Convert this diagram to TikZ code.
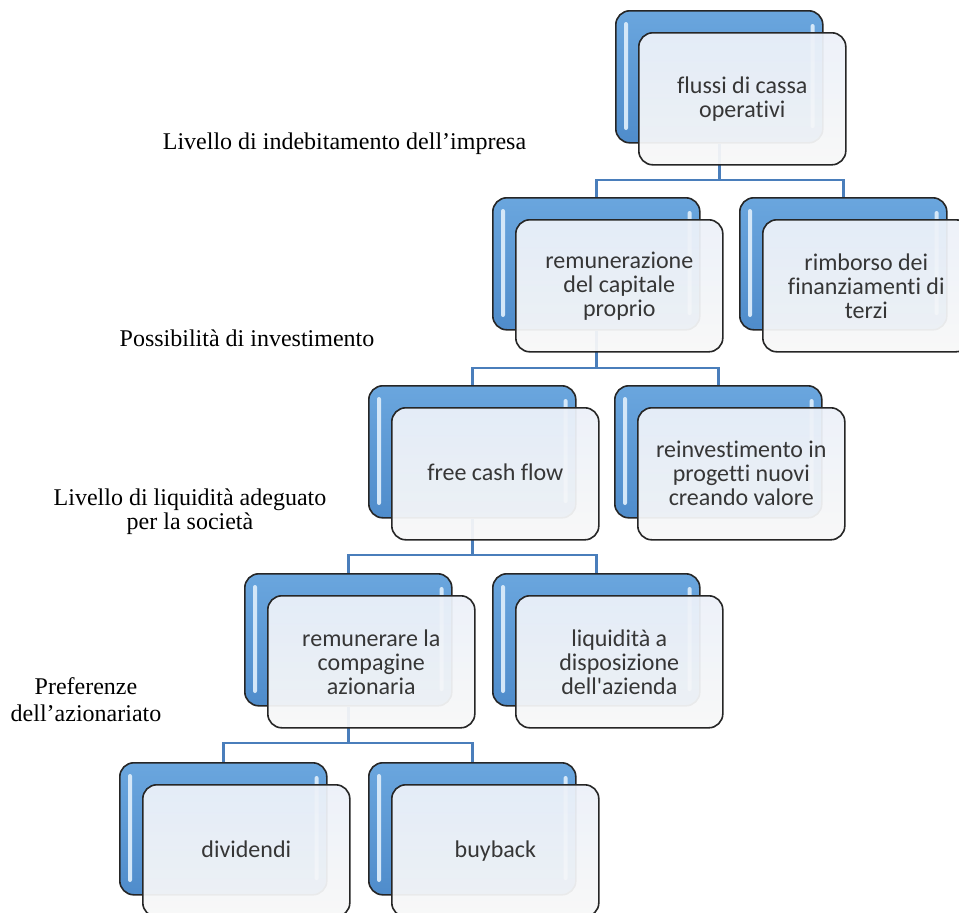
\documentclass[tikz,border=0pt]{standalone}
\usepackage{fontspec}
\setmainfont{Liberation Serif}
\newfontfamily\boxfont[Ligatures=NoCommon]{Carlito}
\usetikzlibrary{backgrounds,calc}
\definecolor{connblue}{HTML}{4A7EBB}
\definecolor{backtop}{HTML}{6AA6DE}
\definecolor{backbot}{HTML}{4F8CCB}
\definecolor{fronttop}{HTML}{ECF1F9}
\definecolor{frontbot}{HTML}{F8F8F8}
\definecolor{stripecol}{HTML}{D4E7F8}
\definecolor{textgray}{HTML}{363636}
\tikzset{
  backbox/.style={draw=black!85, line width=1.6pt, rounded corners=14pt,
    top color=backtop, bottom color=backbot,
    minimum width=207pt, minimum height=132pt, anchor=north west, inner sep=0pt},
  frontbox/.style={draw=black!85, line width=1.6pt, rounded corners=14pt,
    top color=fronttop, bottom color=frontbot, fill opacity=0.94, text opacity=1,
    minimum width=207pt, minimum height=132pt, anchor=north west, inner sep=0pt,
    align=center, text=textgray, font=\boxfont\fontsize{24}{24}\selectfont},
  stripe/.style={fill=stripecol, rounded corners=2pt},
  conn/.style={draw=connblue, line width=2.6pt},
  lab/.style={align=center, text=black, font=\fontsize{24}{24}\selectfont},
}
\newcommand{\pairnode}[4]{%
  \node[backbox] (#1B) at (#2,#3) {};
  \fill[stripe] ($(#1B.north west)+(9,12)$) rectangle ($(#1B.north west)+(13,120)$);
  \fill[stripe] ($(#1B.north east)+(-13,14)$) rectangle ($(#1B.north east)+(-9,118)$);
  \node[frontbox] (#1F) at (#2+23,#3+22) {#4};
}
\begin{document}
\begin{tikzpicture}[x=1pt,y=-1pt]
\useasboundingbox (0,0) rectangle (959,913);

\pairnode{a}{615}{10}{flussi di cassa\\operativi}
\pairnode{b}{492}{197}{remunerazione\\del capitale\\proprio}
\pairnode{c}{739}{197}{rimborso dei\\finanziamenti di\\terzi}
\pairnode{d}{368}{385}{\vphantom{dy}free cash flow}
\pairnode{e}{614}{385}{reinvestimento in\\progetti nuovi\\creando valore}
\pairnode{f}{244}{573}{remunerare la\\compagine\\azionaria}
\pairnode{g}{492}{573}{liquidità a\\disposizione\\dell'azienda}
\pairnode{h}{119}{762}{\vphantom{dy}dividendi}
\pairnode{i}{368}{762}{\vphantom{dy}buyback}

\begin{pgfonlayer}{background}
  \fill[white] (0,0) rectangle (959,913);
  \path (bB.north) ++(0,-17) coordinate (j1);
  \draw[conn] (aB.south) -- (aB.south |- j1);
  \draw[conn] (bB.north) -- (j1) -| (cB.north);
  \path (dB.north) ++(0,-17) coordinate (j2);
  \draw[conn] (bB.south) -- (bB.south |- j2);
  \draw[conn] (dB.north) -- (j2) -| (eB.north);
  \path (fB.north) ++(0,-18) coordinate (j3);
  \draw[conn] (dB.south) -- (dB.south |- j3);
  \draw[conn] (fB.north) -- (j3) -| (gB.north);
  \path (hB.north) ++(0,-19) coordinate (j4);
  \draw[conn] (fB.south) -- (fB.south |- j4);
  \draw[conn] (hB.north) -- (j4) -| (iB.north);
\end{pgfonlayer}

\node[lab, anchor=base] (l1) at (344.5,149) {Livello di indebitamento dell’impresa};
\node[lab, anchor=base] (l2) at (247,346) {Possibilità di investimento};
\node[lab] (l3) at (190,512) {Livello di liquidità adeguato\\per la società};
\node[lab, font=\fontsize{24}{27}\selectfont] (l4) at (86,700) {Preferenze\\dell’azionariato};
\end{tikzpicture}
\end{document}
